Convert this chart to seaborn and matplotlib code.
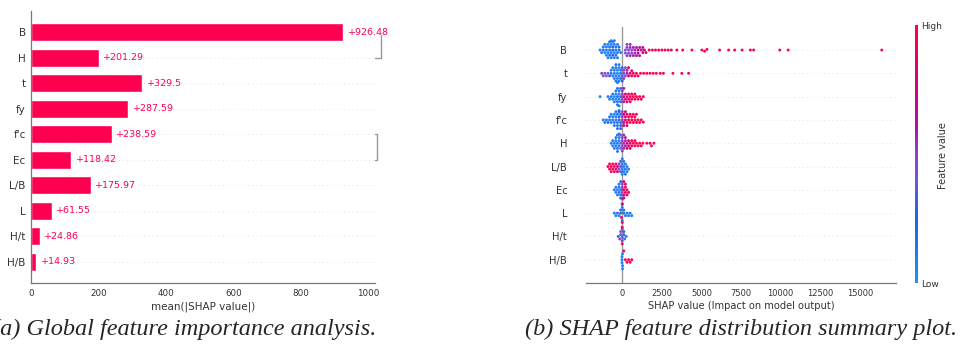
import numpy as np
import pandas as pd
import matplotlib.pyplot as plt
import seaborn as sns
from matplotlib.colors import LinearSegmentedColormap, Normalize
from matplotlib.cm import ScalarMappable

sns.set_style("white")
plt.rcParams["font.family"] = ["DejaVu Sans"]

# (a) mean |SHAP| per feature
bar_features = ["B", "H", "t", "fy", "f'c", "Ec", "L/B", "L", "H/t", "H/B"]
bar_values = [926.48, 201.29, 329.5, 287.59, 238.59, 118.42, 175.97, 61.55, 24.86, 14.93]

# (b) beeswarm as (shap value, number of points, feature value 0=low..1=high)
swarm_features = ["B", "t", "fy", "f'c", "H", "L/B", "Ec", "L", "H/t", "H/B"]
pts_B = [(-1400, 1, .1), (-1300, 1, .1), (-1200, 2, .15), (-1100, 2, .1), (-1000, 3, .1),
         (-900, 3, .1), (-800, 4, .15), (-700, 4, .1), (-600, 3, .25), (-600, 1, .1),
         (-500, 4, .1), (-400, 3, .15), (-300, 3, .1), (-200, 2, .2), (-100, 1, .1),
         (200, 2, .45), (300, 3, .5), (400, 2, .45), (500, 3, .55), (600, 2, .5), (700, 2, .6),
         (800, 2, .55), (900, 2, .6), (1000, 2, .65), (1100, 2, .6), (1200, 1, .7), (1300, 2, .75),
         (1400, 1, .8), (1500, 1, .85), (1700, 1, .95), (1900, 1, 1), (2100, 1, 1), (2300, 1, 1),
         (2500, 1, 1), (2700, 1, 1), (2900, 1, 1), (3100, 1, 1), (3450, 1, 1), (3820, 1, 1),
         (4400, 1, 1), (5030, 1, 1), (5200, 1, 1), (5350, 1, 1), (6150, 1, 1), (6720, 1, 1),
         (7100, 1, 1), (7570, 1, 1), (8090, 1, 1), (8300, 1, 1), (9950, 1, 1), (10480, 1, 1),
         (16390, 1, 1)]
pts_t = [(-1300, 1, .5), (-1200, 1, .45), (-1100, 1, .5), (-1000, 1, .4), (-900, 1, .45),
         (-800, 1, .3), (-700, 2, .1), (-600, 2, .1), (-500, 3, .1), (-400, 4, .15), (-300, 4, .1),
         (-200, 4, .1), (-100, 3, .2), (0, 3, .3), (100, 3, .5), (200, 2, .45), (300, 2, .6),
         (400, 2, .8), (500, 1, .85), (600, 2, .9), (700, 1, .9), (800, 1, 1), (900, 1, .95),
         (1000, 1, 1), (1150, 1, 1), (1350, 1, 1), (1550, 1, 1), (1750, 1, 1), (1950, 1, 1),
         (2150, 1, 1), (2400, 1, 1), (2600, 1, 1), (3200, 1, 1), (3760, 1, 1), (4190, 1, 1)]
pts_fy = [(-1400, 1, .05), (-900, 1, .1), (-800, 1, .1), (-700, 1, .15), (-600, 2, .1),
          (-500, 2, .1), (-400, 3, .1), (-300, 4, .15), (-200, 4, .1), (-100, 3, .3), (0, 3, .5),
          (100, 3, .6), (200, 2, .85), (300, 2, .9), (400, 2, .95), (500, 2, 1), (600, 2, .9),
          (700, 1, 1), (800, 2, 1), (900, 1, 1), (1000, 1, 1), (1100, 1, .95), (1200, 1, 1),
          (1330, 1, 1)]
pts_fc = [(-1200, 1, .1), (-1100, 1, .1), (-1000, 1, .1), (-900, 1, .15), (-800, 2, .1),
          (-700, 2, .1), (-600, 2, .1), (-500, 3, .1), (-400, 3, .1), (-300, 4, .15),
          (-200, 4, .2), (-100, 4, .3), (0, 3, .5), (100, 3, .7), (200, 3, .85), (300, 3, .9),
          (400, 2, 1), (500, 2, .95), (600, 2, 1), (700, 2, 1), (800, 2, 1), (900, 2, 1),
          (1000, 1, 1), (1100, 1, 1), (1200, 1, 1), (1330, 1, 1)]
pts_H = [(-700, 1, .1), (-600, 2, .1), (-500, 2, .1), (-400, 3, .1), (-300, 4, .15),
         (-200, 4, .1), (-100, 3, .4), (0, 4, .5), (100, 3, .55), (200, 3, .6), (300, 2, .75),
         (400, 2, .85), (500, 2, .9), (600, 2, 1), (700, 1, 1), (800, 2, 1), (900, 1, 1),
         (1000, 1, 1), (1100, 1, 1), (1200, 1, 1), (1300, 1, 1), (1550, 1, 1), (1750, 1, 1),
         (1850, 1, 1), (2000, 1, 1)]
pts_LB = [(-900, 1, 1), (-800, 2, 1), (-700, 2, 1), (-600, 2, .95), (-500, 2, 1), (-400, 2, .9),
          (-300, 2, .8), (-200, 2, .5), (-100, 3, .3), (0, 4, .1), (100, 3, .1), (200, 3, .15),
          (300, 2, .1), (400, 1, .1)]
pts_Ec = [(-500, 1, .1), (-400, 2, .1), (-300, 2, .1), (-200, 3, .15), (-100, 4, .2), (0, 4, .5),
          (100, 4, .8), (200, 3, .95), (300, 2, 1), (400, 1, 1)]
pts_L = [(-500, 1, .1), (-400, 1, .1), (-300, 1, .15), (-200, 1, .1), (-100, 2, .2),
         (-50, 1, 1), (0, 3, .1), (0, 2, 1), (100, 2, .15), (200, 1, .1), (300, 1, .1),
         (400, 1, .1), (500, 1, .1), (600, 1, .1)]
pts_Ht = [(-250, 1, .3), (-150, 1, .5), (-100, 2, .45), (0, 3, .35), (0, 2, 1), (100, 2, .3),
          (150, 1, .1), (250, 1, .1)]
pts_HB = [(-20, 3, .05), (20, 3, .05), (100, 1, 1), (200, 1, 1), (300, 1, 1), (400, 1, 1),
          (500, 1, 1), (600, 1, 1)]
swarm_points = [pts_B, pts_t, pts_fy, pts_fc, pts_H, pts_LB, pts_Ec, pts_L, pts_Ht, pts_HB]

red = "#ff0051"
shap_cmap = LinearSegmentedColormap.from_list(
    "red_blue",
    [(0.0, "#1e90ff"), (0.25, "#2060ee"), (0.4, "#6a5adc"), (0.5, "#9040c8"),
     (0.62, "#b0109c"), (0.8, "#d8007a"), (1.0, "#ff0052")])

rows = []
for name, pts in zip(swarm_features, swarm_points):
    for v, n, c in pts:
        rows += [(name, v, c)] * n
df = pd.DataFrame(rows, columns=["feature", "shap", "fval"])

fig = plt.figure(figsize=(9.75, 3.44), dpi=100)
ax1 = fig.add_axes([0.0321, 0.1773, 0.3525, 0.791])
ax2 = fig.add_axes([0.601, 0.1773, 0.318, 0.745])
cax = fig.add_axes([0.9385, 0.1773, 0.003, 0.75])

# ---- (a) bar plot
bar_df = pd.DataFrame({"feature": bar_features, "value": bar_values})
sns.barplot(data=bar_df, x="value", y="feature", orient="h", color=red, saturation=1,
            width=0.7, errorbar=None, ax=ax1)
xmax = 1020
for i, v in enumerate(bar_values):
    ax1.axhline(i, color="#cccccc", lw=0.5, dashes=(1, 5), zorder=-1)
    ax1.text(v + xmax / 80, i, f"+{v:g}", color=red, fontsize=6.8, va="center", ha="left")
ax1.set_xlim(0, xmax)
ax1.set_ylim(9.84, -0.84)
ax1.set_xticks([0, 200, 400, 600, 800, 1000])
ax1.set_xlabel("mean(|SHAP value|)", fontsize=7.5, color="#333333", labelpad=2)
ax1.set_ylabel("")
ax1.tick_params(axis="x", labelsize=6.3, length=2.5, width=0.6, pad=2, colors="#333333")
ax1.tick_params(axis="y", labelsize=7.5, length=0, pad=4, colors="#333333")
for s in ["top", "right"]:
    ax1.spines[s].set_visible(False)
for s in ["left", "bottom"]:
    ax1.spines[s].set_color("#777777")
    ax1.spines[s].set_linewidth(0.9)

# clustering brackets at the right
grey = "#999999"
ax1.plot([xmax, 1038, 1038], [1, 1, 0.1], color=grey, lw=1, clip_on=False)
ax1.plot([1020, 1026, 1026, 1020], [4, 4, 5, 5], color=grey, lw=1, clip_on=False)

# ---- (b) beeswarm summary
for i in range(len(swarm_features)):
    ax2.axhline(i, color="#cccccc", lw=0.5, dashes=(1, 5), zorder=-1)
ax2.axvline(0, color="#999999", lw=1, zorder=-1)
sns.swarmplot(data=df, x="shap", y="feature", hue="fval", order=swarm_features,
              palette=shap_cmap, hue_norm=(0, 1), size=2.1, linewidth=0,
              legend=False, orient="h", ax=ax2, warn_thresh=1)
ax2.set_xlim(-2290, 17290)
ax2.set_ylim(10, -1)
ax2.set_xticks([0, 2500, 5000, 7500, 10000, 12500, 15000])
ax2.set_xlabel("SHAP value (Impact on model output)", fontsize=7.1, color="#333333", labelpad=2)
ax2.set_ylabel("")
ax2.tick_params(axis="x", labelsize=6, length=2.5, width=0.6, pad=2, colors="#333333")
ax2.tick_params(axis="y", labelsize=7.1, length=0, pad=13.5, colors="#333333")
for s in ["top", "right", "left"]:
    ax2.spines[s].set_visible(False)
ax2.spines["bottom"].set_color("#777777")
ax2.spines["bottom"].set_linewidth(0.9)

cb = fig.colorbar(ScalarMappable(Normalize(0, 1), shap_cmap), cax=cax, ticks=[0, 1])
cb.outline.set_visible(False)
cax.set_yticklabels(["Low", "High"])
cax.tick_params(length=0, labelsize=6.5, pad=2, colors="#333333")
fig.text(943 / 975, 0.549, "Feature value", rotation=90, ha="center", va="center",
         fontsize=7, color="#333333")

# captions
cap = dict(family="Liberation Serif", style="italic", fontsize=17.5, va="baseline")
fig.text(-8 / 975, 0.026, "(a) Global feature importance analysis.", **cap)
fig.text(525 / 975, 0.026, "(b) SHAP feature distribution summary plot.", **cap)

fig.savefig("out.png", dpi=100)
